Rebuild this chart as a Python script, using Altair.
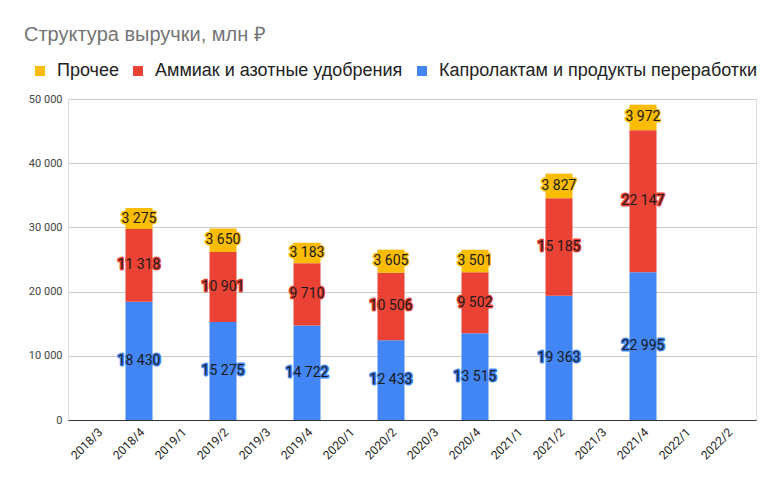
import altair as alt
import pandas as pd

quarters = ["2018/3", "2018/4", "2019/1", "2019/2", "2019/3", "2019/4", "2020/1", "2020/2",
            "2020/3", "2020/4", "2021/1", "2021/2", "2021/3", "2021/4", "2022/1", "2022/2"]
bar_quarters = ["2018/4", "2019/2", "2019/4", "2020/2", "2020/4", "2021/2", "2021/4"]
kaprolaktam = [18430, 15275, 14722, 12433, 13515, 19363, 22995]
ammiak = [11318, 10901, 9710, 10506, 9502, 15185, 22147]
prochee = [3275, 3650, 3183, 3605, 3501, 3827, 3972]
series = ["Прочее", "Аммиак и азотные удобрения", "Капролактам и продукты переработки"]
colors = ["#FBBC04", "#EA4335", "#4285F4"]
y_ticks = [0, 10000, 20000, 30000, 40000, 50000]

rows = []
for i, q in enumerate(bar_quarters):
    for ordv, (name, vals) in enumerate([(series[2], kaprolaktam), (series[1], ammiak), (series[0], prochee)]):
        v = vals[i]
        rows.append({"quarter": q, "series": name, "value": v, "ord": ordv,
                     "label": f"{v:,}".replace(",", " ")})
df = pd.DataFrame(rows)

base = alt.Chart(df).transform_stack(
    stack="value", groupby=["quarter"], sort=[alt.SortField("ord", order="ascending")], as_=["v0", "v1"]
).transform_calculate(mid="(datum.v0 + datum.v1) / 2")

x_enc = alt.X("quarter:N", title=None,
              scale=alt.Scale(domain=quarters, paddingInner=0.357, paddingOuter=0.369),
              axis=alt.Axis(labelAngle=315, labelFont="Roboto", labelFontSize=12, labelColor="#222",
                            ticks=False, domainColor="#333", domainWidth=1, labelPadding=6, grid=False))
y_scale = alt.Scale(domain=[0, 50000], nice=False)

color_scale = alt.Scale(domain=series, range=colors)

bars = base.mark_bar().encode(
    x=x_enc,
    y=alt.Y("v0:Q", scale=y_scale, title=None,
            axis=alt.Axis(values=y_ticks, labelExpr="replace(format(datum.value, ','), ',', ' ')",
                          ticks=False, tickSize=0, domain=False, gridColor="#cccccc",
                          labelFont="Roboto", labelFontSize=11, labelColor="#444", labelPadding=6)),
    y2="v1",
    color=alt.Color("series:N", scale=color_scale, sort=series,
                    legend=alt.Legend(orient="none", legendX=-37, legendY=-37, direction="horizontal",
                                      title=None, symbolType="square", symbolSize=100,
                                      labelFont="Liberation Sans", labelFontSize=18, labelColor="#222",
                                      labelOffset=8, columnPadding=10, symbolStrokeWidth=0,
                                      labelLimit=500, columns=3)),
)

halo = base.mark_text(font="Roboto", fontSize=14, strokeWidth=3, strokeJoin="round").encode(
    x=x_enc,
    y=alt.Y("mid:Q", scale=y_scale, title=None),
    text="label:N",
    color=alt.Color("series:N", scale=color_scale, sort=series),
    stroke=alt.Stroke("series:N", scale=color_scale, legend=None),
)

labels = base.mark_text(font="Roboto", fontSize=14, color="#1a1a1a").encode(
    x=x_enc,
    y=alt.Y("mid:Q", scale=y_scale, title=None),
    text="label:N",
)

chart = alt.layer(bars, halo, labels).properties(
    width=688, height=321,
    autosize="none",
    padding={"left": 60, "top": 91, "right": 16, "bottom": 50},
    title=alt.TitleParams("Структура выручки, млн ₽", anchor="start", frame="group",
                          font="Liberation Sans", fontSize=20, fontWeight="normal",
                          color="#757575", dx=-44, offset=1, baseline="alphabetic"),
).configure_view(stroke=None).configure(background="white")

chart.save("out.html", embed_options={"renderer": "svg", "actions": False})
